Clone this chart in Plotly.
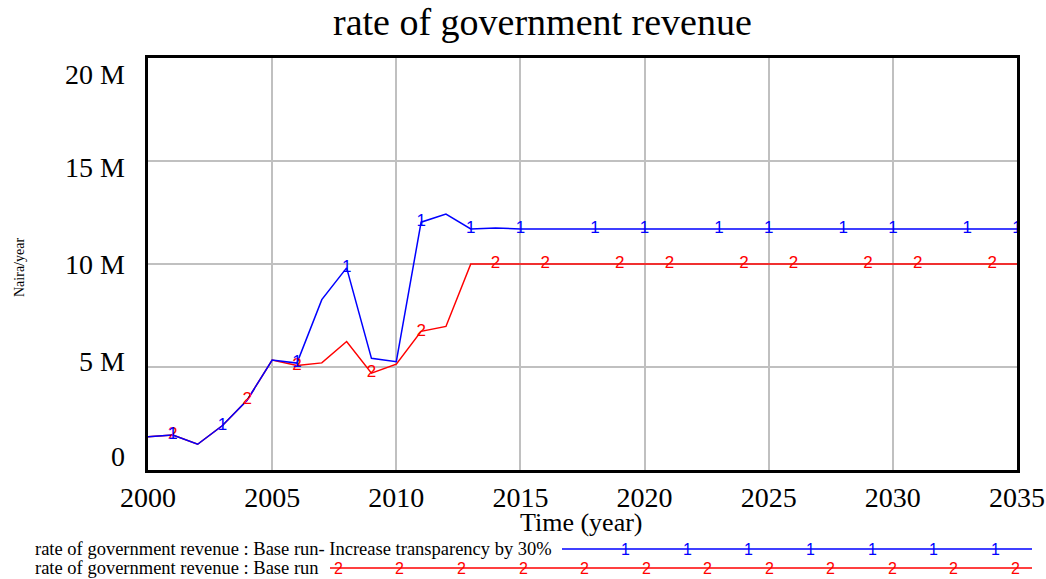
import plotly.graph_objects as go

years = list(range(2000, 2036))
blue_early = [1.62, 1.70, 1.25, 2.16, 3.40, 5.34, 5.19, 8.27, 9.81, 5.42, 5.26, 12.03, 12.42, 11.70, 11.75]
red_early = [1.62, 1.70, 1.25, 2.16, 3.40, 5.34, 5.07, 5.20, 6.24, 4.70, 5.14, 6.73, 6.97, 10.0, 10.0]
blue_flat = 11.70
red_flat = 10.0
blue_vals = [v * 1e6 for v in blue_early] + [blue_flat * 1e6] * (len(years) - len(blue_early))
red_vals = [v * 1e6 for v in red_early] + [red_flat * 1e6] * (len(years) - len(red_early))

blue_marker_years = [2001, 2003, 2006, 2008, 2011, 2013, 2015, 2018, 2020, 2023, 2025, 2028, 2030, 2033, 2035]
red_marker_years = [2001, 2004, 2006, 2009, 2011, 2014, 2016, 2019, 2021, 2024, 2026, 2029, 2031, 2034]

y_tick_vals = [0, 5e6, 10e6, 15e6, 20e6]
y_tick_text = ["0", "5 M", "10 M", "15 M", "20 M"]
y_tick_shift = [14, 6, 0, -6, -16]
x_tick_vals = [2000, 2005, 2010, 2015, 2020, 2025, 2030, 2035]

title_text = "rate of government revenue"
blue_name = "rate of government revenue : Base run- Increase transparency by 30%"
red_name = "rate of government revenue : Base run"

BLUE = "#0000ff"
RED = "#ff0000"
SERIF = "Liberation Serif, Times New Roman, serif"
SANS = "Liberation Sans, Arial, sans-serif"

L, R, T, B = 148, 1017, 58, 470
W, H = 1046, 579

def px(x):
    return (x - L) / (R - L)

def py(y):
    return (B - y) / (B - T)

fig = go.Figure()
fig.add_trace(go.Scatter(x=years, y=red_vals, mode="lines", line=dict(color=RED, width=1.5), hoverinfo="skip"))
fig.add_trace(go.Scatter(x=years, y=blue_vals, mode="lines", line=dict(color=BLUE, width=1.5), hoverinfo="skip"))

rm = [red_vals[years.index(y)] for y in red_marker_years]
bm = [blue_vals[years.index(y)] for y in blue_marker_years]
fig.add_trace(go.Scatter(x=red_marker_years, y=rm, mode="text", text=["2"] * len(rm),
                         textfont=dict(color=RED, size=17, family=SANS), textposition="middle center", hoverinfo="skip"))
fig.add_trace(go.Scatter(x=blue_marker_years, y=bm, mode="text", text=["1"] * len(bm),
                         textfont=dict(color=BLUE, size=17, family=SANS), textposition="middle center", hoverinfo="skip"))

annotations = []
for v, t, s in zip(y_tick_vals, y_tick_text, y_tick_shift):
    annotations.append(dict(x=0, xref="paper", xshift=-21, y=v, yref="y", yshift=s, text=t, showarrow=False,
                            xanchor="right", yanchor="middle", font=dict(family=SERIF, size=28, color="black")))

annotations.append(dict(x=px(542), xref="paper", y=py(22), yref="paper", text=title_text, showarrow=False,
                        xanchor="center", yanchor="middle", font=dict(family=SERIF, size=38, color="black")))
annotations.append(dict(x=px(581), xref="paper", y=py(522), yref="paper", text="Time (year)", showarrow=False,
                        xanchor="center", yanchor="middle", font=dict(family=SERIF, size=26, color="black")))
annotations.append(dict(x=px(19), xref="paper", y=py(268), yref="paper", text="Naira/year", showarrow=False,
                        textangle=-90, xanchor="center", yanchor="middle", font=dict(family=SERIF, size=14, color="black")))

# legend rows
annotations.append(dict(x=px(33), xref="paper", y=py(549), yref="paper", text=blue_name, showarrow=False,
                        xanchor="left", yanchor="middle", font=dict(family=SERIF, size=18.5, color="black")))
annotations.append(dict(x=px(33), xref="paper", y=py(568), yref="paper", text=red_name, showarrow=False,
                        xanchor="left", yanchor="middle", font=dict(family=SERIF, size=18.5, color="black")))

shapes = [
    dict(type="line", xref="paper", yref="paper", x0=px(562), x1=px(1032), y0=py(549), y1=py(549),
         line=dict(color=BLUE, width=1.5)),
    dict(type="line", xref="paper", yref="paper", x0=px(330), x1=px(1032), y0=py(568), y1=py(568),
         line=dict(color=RED, width=1.5)),
]
for xp in [625, 687, 748, 810, 872, 933, 995]:
    annotations.append(dict(x=px(xp), xref="paper", y=py(549), yref="paper", text="1", showarrow=False,
                            xanchor="center", yanchor="middle", font=dict(family=SANS, size=16, color=BLUE)))
for xp in [338, 399, 461, 523, 584, 646, 707, 769, 830, 892, 953, 1015]:
    annotations.append(dict(x=px(xp), xref="paper", y=py(568), yref="paper", text="2", showarrow=False,
                            xanchor="center", yanchor="middle", font=dict(family=SANS, size=16, color=RED)))

fig.update_layout(
    width=W, height=H, autosize=False,
    margin=dict(l=L, r=W - R, t=T, b=H - B, autoexpand=False),
    paper_bgcolor="white", plot_bgcolor="white",
    showlegend=False,
    annotations=annotations,
    shapes=shapes,
    xaxis=dict(range=[2000, 2035], tickvals=x_tick_vals, showgrid=True, gridcolor="#c0c0c0", gridwidth=1.5,
               showline=True, linecolor="black", linewidth=3, mirror=True, ticks="", zeroline=False,
               automargin=False, tickfont=dict(family=SERIF, size=28, color="black")),
    yaxis=dict(range=[0, 20e6], tickvals=y_tick_vals, showticklabels=False, showgrid=True, gridcolor="#c0c0c0",
               gridwidth=1.5, showline=True, linecolor="black", linewidth=3, mirror=True, ticks="", zeroline=False,
               automargin=False),
)

fig.write_html("out.html", config={"displayModeBar": False, "responsive": False},
               post_script="document.body.style.margin='0';document.body.style.overflow='hidden';")
